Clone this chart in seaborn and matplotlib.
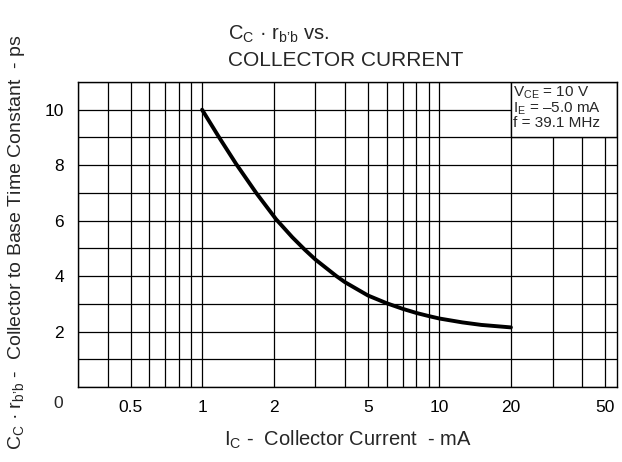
import numpy as np
import pandas as pd
import seaborn as sns
import matplotlib.pyplot as plt
from matplotlib.patches import Rectangle
from matplotlib.ticker import FixedLocator, NullFormatter

# curve
ic_ma = [1.0, 1.18, 1.39, 1.69, 2.05, 2.4, 2.71, 3.0, 3.68, 4.0, 5.0, 6.0, 7.0, 8.0, 9.0, 10.0, 12.5, 15.0, 20.0]
tau_ps = [10.0, 9.0, 8.05, 7.0, 6.05, 5.4, 4.95, 4.6, 4.0, 3.78, 3.3, 3.02, 2.82, 2.67, 2.56, 2.47, 2.33, 2.24, 2.15]

x_ticks = [0.5, 1, 2, 5, 10, 20, 50]
x_tick_labels = ['0.5', '1', '2', '5', '10', '20', '50']
y_ticks = [2, 4, 6, 8, 10]
cond_lines = [r'$\mathrm{V_{CE}}$ = 10 V', r'$\mathrm{I_E}$ = –5.0 mA', 'f = 39.1 MHz']

data = pd.DataFrame({'Ic': ic_ma, 'tau': tau_ps})

sns.set_style('white')
plt.rcParams['font.family'] = ['Liberation Sans', 'DejaVu Sans']
plt.rcParams['mathtext.fontset'] = 'custom'
plt.rcParams['mathtext.rm'] = 'Liberation Sans'
plt.rcParams['mathtext.it'] = 'Liberation Sans'

fig = plt.figure(figsize=(6.22, 4.62), dpi=100)
ax = fig.add_axes([0.1254, 0.1623, 0.8666, 0.6602])

sns.lineplot(data=data, x='Ic', y='tau', color='black', linewidth=2.8, ax=ax, zorder=3)

ax.set_xscale('log')
ax.set_xlim(0.3, 56)
ax.set_ylim(0, 11)
ax.xaxis.set_major_locator(FixedLocator(x_ticks))
ax.set_xticklabels(x_tick_labels)
minor = [m * d for d in [0.1, 1, 10] for m in range(1, 10)]
ax.xaxis.set_minor_locator(FixedLocator([v for v in minor if v not in x_ticks]))
ax.xaxis.set_minor_formatter(NullFormatter())
ax.set_yticks(y_ticks)
ax.yaxis.set_minor_locator(FixedLocator(range(0, 12)))

ax.set_axisbelow(True)
ax.grid(True, which='both', color='black', linewidth=0.9)
for s in ax.spines.values():
    s.set_color('black')
    s.set_linewidth(1.0)
ax.tick_params(which='both', length=0, labelsize=12.5, colors='black')
ax.tick_params(axis='x', pad=9)
ax.tick_params(axis='y', pad=10)
ax.text(-0.028, -0.03, '0', transform=ax.transAxes, ha='right', va='top', fontsize=12.5)

# test conditions box (covers grid in upper right)
ax.add_patch(Rectangle((20, 9), 56 - 20, 2, facecolor='white', edgecolor='black',
                       linewidth=1.0, zorder=2))
ax.text(20 * 1.025, 10.9, '\n'.join(cond_lines), ha='left', va='top', fontsize=11,
        linespacing=0.95, zorder=4)

ax.set_xlabel(r'$\mathrm{I_C}$ -  Collector Current  - mA', fontsize=14.5, labelpad=10)
ax.set_ylabel(r"$\mathrm{C_C}$ · $\mathrm{r_{b’b}}$ -  Collector to Base Time Constant  - ps",
              fontsize=14)
ax.yaxis.set_label_coords(-0.094, 0.475)

fig.text(0.367, 0.925, r"$\mathrm{C_C}$ · $\mathrm{r_{b’b}}$ vs.", fontsize=14.5, ha='left', va='center')
fig.text(0.367, 0.868, 'COLLECTOR CURRENT', fontsize=15, ha='left', va='center')

fig.savefig('out.png', dpi=100)
